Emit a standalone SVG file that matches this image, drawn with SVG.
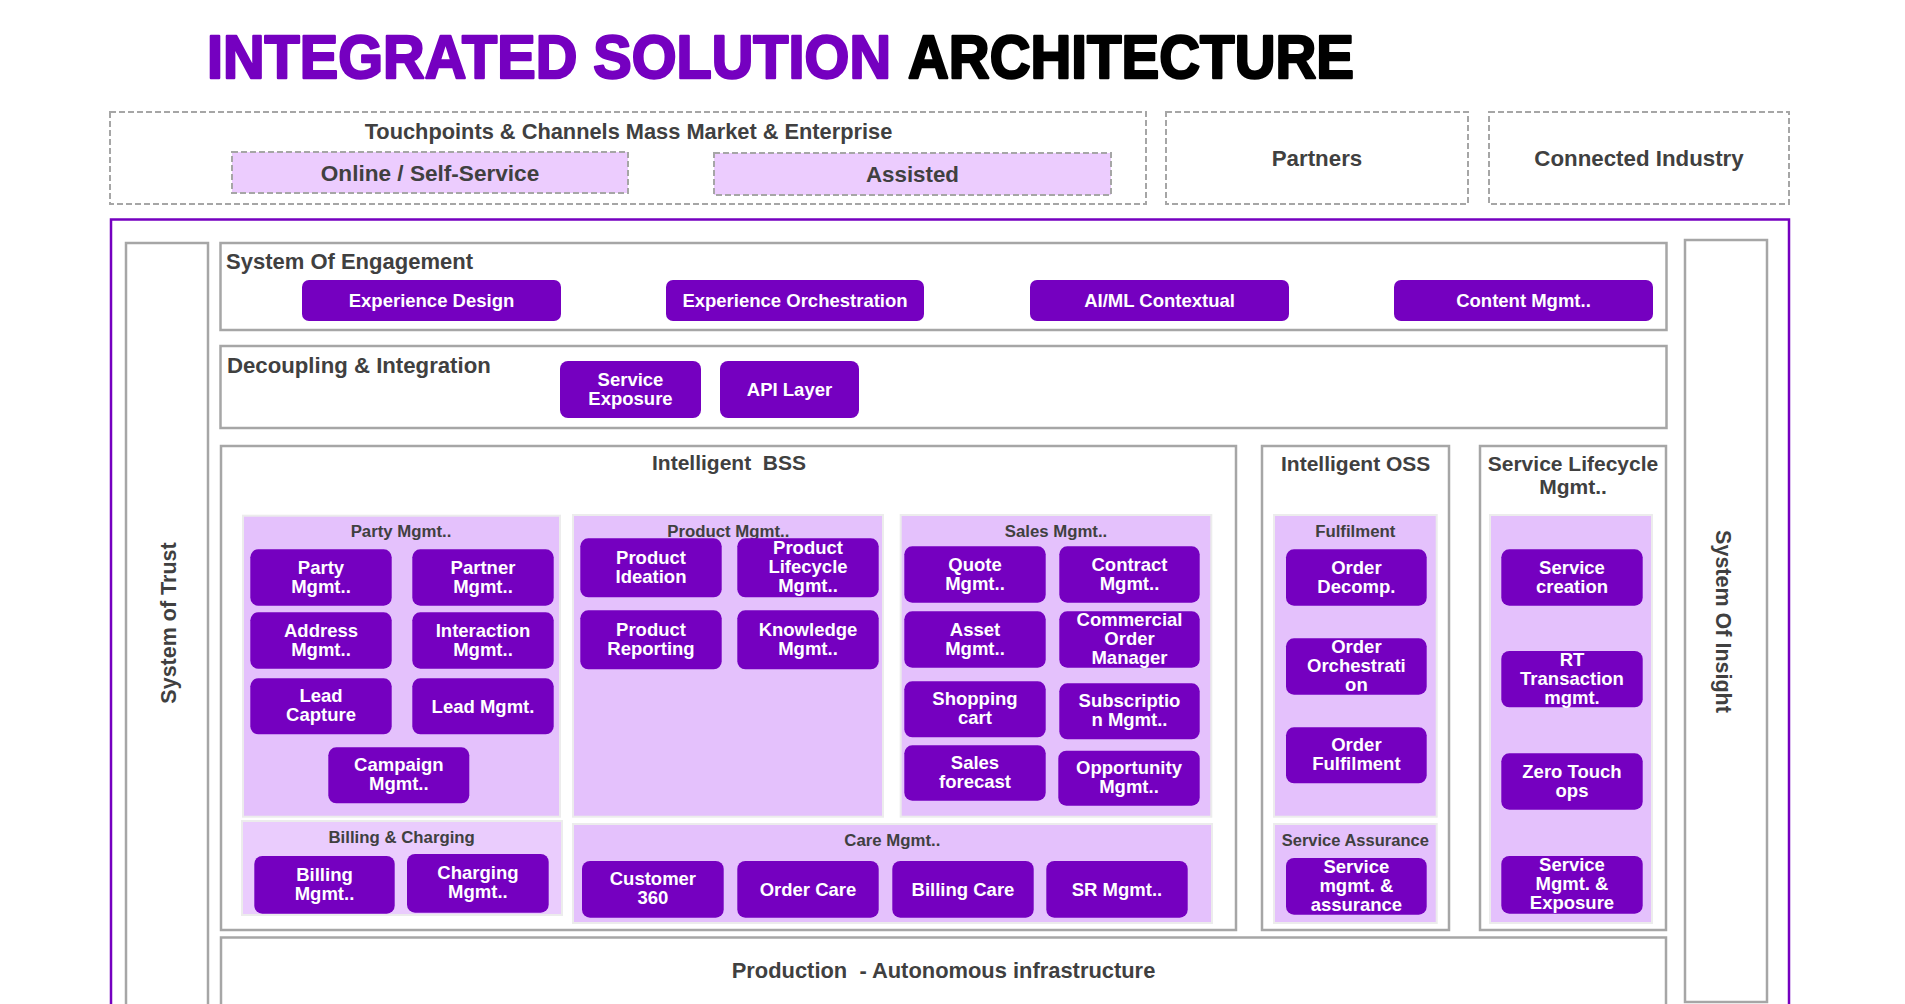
<svg xmlns="http://www.w3.org/2000/svg" width="1905" height="1004" viewBox="0 0 1905 1004">
<style>
.bg{fill:#ffffff}
.dash{fill:#ffffff;stroke:#a6a6a6;stroke-width:2;stroke-dasharray:6 3}
.dashp{fill:#ecccfe;stroke:#a6a6a6;stroke-width:2;stroke-dasharray:6 3}
.sec{fill:#ffffff;stroke:#a6a6a6;stroke-width:2.5}
.frame{fill:none;stroke:#7500c0;stroke-width:2.5}
.panel{fill:#e4c1fc;stroke:#ececec;stroke-width:2}
.panel2{fill:#eaccfd;stroke:#ececec;stroke-width:2}
.btn{fill:#7500c0}
.bt{fill:#ffffff;font-family:"Liberation Sans",Arial,sans-serif;font-weight:bold;font-size:18.5px;text-anchor:middle}
.h1{fill:#404040;font-family:"Liberation Sans",Arial,sans-serif;font-weight:bold;font-size:22px}
.h1c{fill:#404040;font-family:"Liberation Sans",Arial,sans-serif;font-weight:bold;font-size:21px;text-anchor:middle}
.h1t{fill:#404040;font-family:"Liberation Sans",Arial,sans-serif;font-weight:bold;font-size:22.3px;text-anchor:middle}
.h2{fill:#404040;font-family:"Liberation Sans",Arial,sans-serif;font-weight:bold;font-size:16.8px;text-anchor:middle}
.title{font-family:"Liberation Sans",Arial,sans-serif;font-weight:bold;font-size:61px;stroke-width:2.4;stroke-linejoin:round}
.pre{white-space:pre}
</style>
<rect class="bg" x="0" y="0" width="1905" height="1004"/>

<g id="title">
<text class="title" x="207" y="78" fill="#7500c0" stroke="#7500c0" textLength="684" lengthAdjust="spacingAndGlyphs">INTEGRATED SOLUTION</text>
<text class="title" x="908" y="78" fill="#000000" stroke="#000000" textLength="446" lengthAdjust="spacingAndGlyphs">ARCHITECTURE</text>
</g>

<g id="touchpoints">
<rect class="dash" x="110" y="112" width="1036" height="92"/>
<text class="h1t" x="628.5" y="139" style="font-size:21.8px">Touchpoints &amp; Channels Mass Market &amp; Enterprise</text>
</g>
<g id="online">
<rect class="dashp" x="232" y="152" width="396" height="41"/>
<text class="h1t" x="430" y="181" style="font-size:22.6px">Online / Self-Service</text>
</g>
<g id="assisted">
<rect class="dashp" x="714" y="153" width="397" height="42"/>
<text class="h1t" x="912.5" y="181.5">Assisted</text>
</g>
<g id="partners">
<rect class="dash" x="1166" y="112" width="302" height="92"/>
<text class="h1t" x="1317" y="166">Partners</text>
</g>
<g id="connected-industry">
<rect class="dash" x="1489" y="112" width="300" height="92"/>
<text class="h1t" x="1639" y="166">Connected Industry</text>
</g>

<g id="outer-frame">
<rect class="frame" x="111" y="219.5" width="1678" height="900"/>
</g>

<g id="system-of-trust">
<rect class="sec" x="126" y="243" width="82" height="820"/>
<text class="h1c" transform="translate(168,623) rotate(-90)" x="0" y="7.5" style="font-size:21.5px">System of Trust</text>
</g>
<g id="system-of-insight">
<rect class="sec" x="1685" y="240" width="82" height="762"/>
<text class="h1c" transform="translate(1723,621.5) rotate(90)" x="0" y="7.5" style="font-size:21.5px">System Of Insight</text>
</g>

<g id="system-of-engagement">
<rect class="sec" x="220.5" y="243" width="1446" height="87"/>
<text class="h1" x="226" y="269">System Of Engagement</text>
</g>
<g id="experience-design"><rect class="btn" x="302" y="280" width="259" height="41" rx="7"/><text class="bt" x="431.5" y="306.8">Experience Design</text></g>
<g id="experience-orchestration"><rect class="btn" x="666" y="280" width="258" height="41" rx="7"/><text class="bt" x="795" y="306.8">Experience Orchestration</text></g>
<g id="aiml-contextual"><rect class="btn" x="1030" y="280" width="259" height="41" rx="7"/><text class="bt" x="1159.5" y="306.8">AI/ML Contextual</text></g>
<g id="content-mgmt"><rect class="btn" x="1394" y="280" width="259" height="41" rx="7"/><text class="bt" x="1523.5" y="306.8">Content Mgmt..</text></g>

<g id="decoupling-integration">
<rect class="sec" x="220.5" y="346" width="1446" height="82"/>
<text class="h1" x="227" y="373" style="font-size:22.2px">Decoupling &amp; Integration</text>
</g>
<g id="service-exposure"><rect class="btn" x="560" y="361" width="141" height="57" rx="8"/><text class="bt" x="630.5" y="385.5">Service</text><text class="bt" x="630.5" y="404.5">Exposure</text></g>
<g id="api-layer"><rect class="btn" x="720" y="361" width="139" height="57" rx="8"/><text class="bt" x="789.5" y="395.8">API Layer</text></g>

<g id="intelligent-bss">
<rect class="sec" x="221" y="446" width="1015" height="484"/>
<text class="h1c pre" x="729" y="469.5">Intelligent  BSS</text>
</g>
<g id="intelligent-oss">
<rect class="sec" x="1262" y="446" width="187" height="484"/>
<text class="h1c" x="1355.7" y="470.7">Intelligent OSS</text>
</g>
<g id="service-lifecycle">
<rect class="sec" x="1480" y="446" width="186" height="484"/>
<text class="h1c" x="1573" y="470.7">Service Lifecycle</text>
<text class="h1c" x="1573" y="494.3">Mgmt..</text>
</g>
<g id="production">
<rect class="sec" x="221" y="937.5" width="1445" height="200"/>
<text class="h1c pre" x="943.5" y="978.3" style="font-size:21.9px">Production  - Autonomous infrastructure</text>
</g>

<g id="party-mgmt">
<rect class="panel" x="243" y="515.7" width="317" height="301"/>
<text class="h2" x="401" y="536.7">Party Mgmt..</text>
</g>
<g id="product-mgmt">
<rect class="panel" x="573" y="515" width="310" height="301.7"/>
<text class="h2" x="728.3" y="536.7">Product Mgmt..</text>
</g>
<g id="sales-mgmt">
<rect class="panel" x="900.7" y="515" width="310.6" height="301.7"/>
<text class="h2" x="1056" y="536.7">Sales Mgmt..</text>
</g>
<g id="billing-charging">
<rect class="panel2" x="242" y="821" width="320" height="94"/>
<text class="h2" x="401.7" y="843.3">Billing &amp; Charging</text>
</g>
<g id="care-mgmt">
<rect class="panel" x="573" y="824" width="639" height="99"/>
<text class="h2" x="892.3" y="846">Care Mgmt..</text>
</g>
<g id="fulfilment">
<rect class="panel" x="1274" y="515" width="162.7" height="301.7"/>
<text class="h2" x="1355.3" y="536.7">Fulfilment</text>
</g>
<g id="service-assurance">
<rect class="panel" x="1274" y="824" width="162.7" height="99"/>
<text class="h2" x="1355.3" y="846" style="font-size:16.5px">Service Assurance</text>
</g>
<g id="slc-panel">
<rect class="panel" x="1490" y="515" width="162" height="408"/>
</g>

<g id="party-mgmt-btn"><rect class="btn" x="250.3" y="549.3" width="141.4" height="56.4" rx="8"/><text class="bt" x="321" y="573.5">Party</text><text class="bt" x="321" y="592.5">Mgmt..</text></g>
<g id="partner-mgmt"><rect class="btn" x="412.3" y="549.3" width="141.4" height="56.4" rx="8"/><text class="bt" x="483" y="573.5">Partner</text><text class="bt" x="483" y="592.5">Mgmt..</text></g>
<g id="address-mgmt"><rect class="btn" x="250.3" y="612.3" width="141.4" height="56.4" rx="8"/><text class="bt" x="321" y="636.5">Address</text><text class="bt" x="321" y="655.5">Mgmt..</text></g>
<g id="interaction-mgmt"><rect class="btn" x="412.3" y="612.3" width="141.4" height="56.4" rx="8"/><text class="bt" x="483" y="636.5">Interaction</text><text class="bt" x="483" y="655.5">Mgmt..</text></g>
<g id="lead-capture"><rect class="btn" x="250.3" y="678.3" width="141.4" height="56" rx="8"/><text class="bt" x="321" y="702.3">Lead</text><text class="bt" x="321" y="721.3">Capture</text></g>
<g id="lead-mgmt"><rect class="btn" x="412.3" y="678.3" width="141.4" height="56" rx="8"/><text class="bt" x="483" y="712.6">Lead Mgmt.</text></g>
<g id="campaign-mgmt"><rect class="btn" x="328.3" y="747.3" width="141" height="56" rx="8"/><text class="bt" x="398.8" y="771.3">Campaign</text><text class="bt" x="398.8" y="790.3">Mgmt..</text></g>

<g id="product-ideation"><rect class="btn" x="580.3" y="538.3" width="141.4" height="59" rx="8"/><text class="bt" x="651" y="563.8">Product</text><text class="bt" x="651" y="582.8">Ideation</text></g>
<g id="product-lifecycle"><rect class="btn" x="737.3" y="538.3" width="141.4" height="59" rx="8"/><text class="bt" x="808" y="554.3">Product</text><text class="bt" x="808" y="573.3">Lifecycle</text><text class="bt" x="808" y="592.3">Mgmt..</text></g>
<g id="product-reporting"><rect class="btn" x="580.3" y="610.3" width="141.4" height="59" rx="8"/><text class="bt" x="651" y="635.8">Product</text><text class="bt" x="651" y="654.8">Reporting</text></g>
<g id="knowledge-mgmt"><rect class="btn" x="737.3" y="610.3" width="141.4" height="59" rx="8"/><text class="bt" x="808" y="635.8">Knowledge</text><text class="bt" x="808" y="654.8">Mgmt..</text></g>

<g id="quote-mgmt"><rect class="btn" x="904.3" y="546.3" width="141.4" height="56.4" rx="8"/><text class="bt" x="975" y="570.5">Quote</text><text class="bt" x="975" y="589.5">Mgmt..</text></g>
<g id="contract-mgmt"><rect class="btn" x="1059.3" y="546.3" width="140.4" height="56.4" rx="8"/><text class="bt" x="1129.5" y="570.5">Contract</text><text class="bt" x="1129.5" y="589.5">Mgmt..</text></g>
<g id="asset-mgmt"><rect class="btn" x="904.3" y="611.3" width="141.4" height="56.4" rx="8"/><text class="bt" x="975" y="635.5">Asset</text><text class="bt" x="975" y="654.5">Mgmt..</text></g>
<g id="commercial-order-manager"><rect class="btn" x="1059.3" y="611.3" width="140.4" height="56.4" rx="8"/><text class="bt" x="1129.5" y="626">Commercial</text><text class="bt" x="1129.5" y="645">Order</text><text class="bt" x="1129.5" y="664">Manager</text></g>
<g id="shopping-cart"><rect class="btn" x="904.3" y="681.3" width="141.4" height="56" rx="8"/><text class="bt" x="975" y="705.3">Shopping</text><text class="bt" x="975" y="724.3">cart</text></g>
<g id="subscription-mgmt"><rect class="btn" x="1059.3" y="683.3" width="140.4" height="56" rx="8"/><text class="bt" x="1129.5" y="707.3">Subscriptio</text><text class="bt" x="1129.5" y="726.3">n Mgmt..</text></g>
<g id="sales-forecast"><rect class="btn" x="904.3" y="745.3" width="141.4" height="55.4" rx="8"/><text class="bt" x="975" y="769">Sales</text><text class="bt" x="975" y="788">forecast</text></g>
<g id="opportunity-mgmt"><rect class="btn" x="1058.3" y="750.7" width="141.4" height="55" rx="8"/><text class="bt" x="1129" y="774.2">Opportunity</text><text class="bt" x="1129" y="793.2">Mgmt..</text></g>

<g id="billing-mgmt"><rect class="btn" x="254.3" y="856" width="140.4" height="57.7" rx="8"/><text class="bt" x="324.5" y="880.9">Billing</text><text class="bt" x="324.5" y="899.9">Mgmt..</text></g>
<g id="charging-mgmt"><rect class="btn" x="407" y="854" width="141.7" height="58.7" rx="8"/><text class="bt" x="477.9" y="879.4">Charging</text><text class="bt" x="477.9" y="898.4">Mgmt..</text></g>

<g id="customer-360"><rect class="btn" x="582" y="861" width="141.7" height="56.7" rx="8"/><text class="bt" x="652.9" y="885.4">Customer</text><text class="bt" x="652.9" y="904.4">360</text></g>
<g id="order-care"><rect class="btn" x="737.3" y="861" width="141.4" height="56.7" rx="8"/><text class="bt" x="808" y="895.7">Order Care</text></g>
<g id="billing-care"><rect class="btn" x="892.3" y="861" width="141.4" height="56.7" rx="8"/><text class="bt" x="963" y="895.7">Billing Care</text></g>
<g id="sr-mgmt"><rect class="btn" x="1046.3" y="861" width="141.4" height="56.7" rx="8"/><text class="bt" x="1117" y="895.7">SR Mgmt..</text></g>

<g id="order-decomp"><rect class="btn" x="1286" y="549.3" width="140.7" height="56.4" rx="8"/><text class="bt" x="1356.4" y="573.5">Order</text><text class="bt" x="1356.4" y="592.5">Decomp.</text></g>
<g id="order-orchestration"><rect class="btn" x="1286" y="638.3" width="140.7" height="56.4" rx="8"/><text class="bt" x="1356.4" y="653">Order</text><text class="bt" x="1356.4" y="672">Orchestrati</text><text class="bt" x="1356.4" y="691">on</text></g>
<g id="order-fulfilment"><rect class="btn" x="1286" y="727.3" width="140.7" height="56" rx="8"/><text class="bt" x="1356.4" y="751.3">Order</text><text class="bt" x="1356.4" y="770.3">Fulfilment</text></g>
<g id="service-mgmt-assurance"><rect class="btn" x="1286" y="858" width="140.7" height="56.7" rx="8"/><text class="bt" x="1356.4" y="872.9">Service</text><text class="bt" x="1356.4" y="891.9">mgmt. &amp;</text><text class="bt" x="1356.4" y="910.9">assurance</text></g>

<g id="service-creation"><rect class="btn" x="1501.3" y="549.3" width="141.4" height="56.4" rx="8"/><text class="bt" x="1572" y="573.5">Service</text><text class="bt" x="1572" y="592.5">creation</text></g>
<g id="rt-transaction"><rect class="btn" x="1501.3" y="651" width="141.4" height="56.3" rx="8"/><text class="bt" x="1572" y="665.7">RT</text><text class="bt" x="1572" y="684.7">Transaction</text><text class="bt" x="1572" y="703.7">mgmt.</text></g>
<g id="zero-touch-ops"><rect class="btn" x="1501.3" y="753.3" width="141.4" height="56.4" rx="8"/><text class="bt" x="1572" y="777.5">Zero Touch</text><text class="bt" x="1572" y="796.5">ops</text></g>
<g id="service-mgmt-exposure"><rect class="btn" x="1501.3" y="856" width="141.4" height="57.7" rx="8"/><text class="bt" x="1572" y="871.4">Service</text><text class="bt" x="1572" y="890.4">Mgmt. &amp;</text><text class="bt" x="1572" y="909.4">Exposure</text></g>

<g id="connectors"></g>
</svg>
